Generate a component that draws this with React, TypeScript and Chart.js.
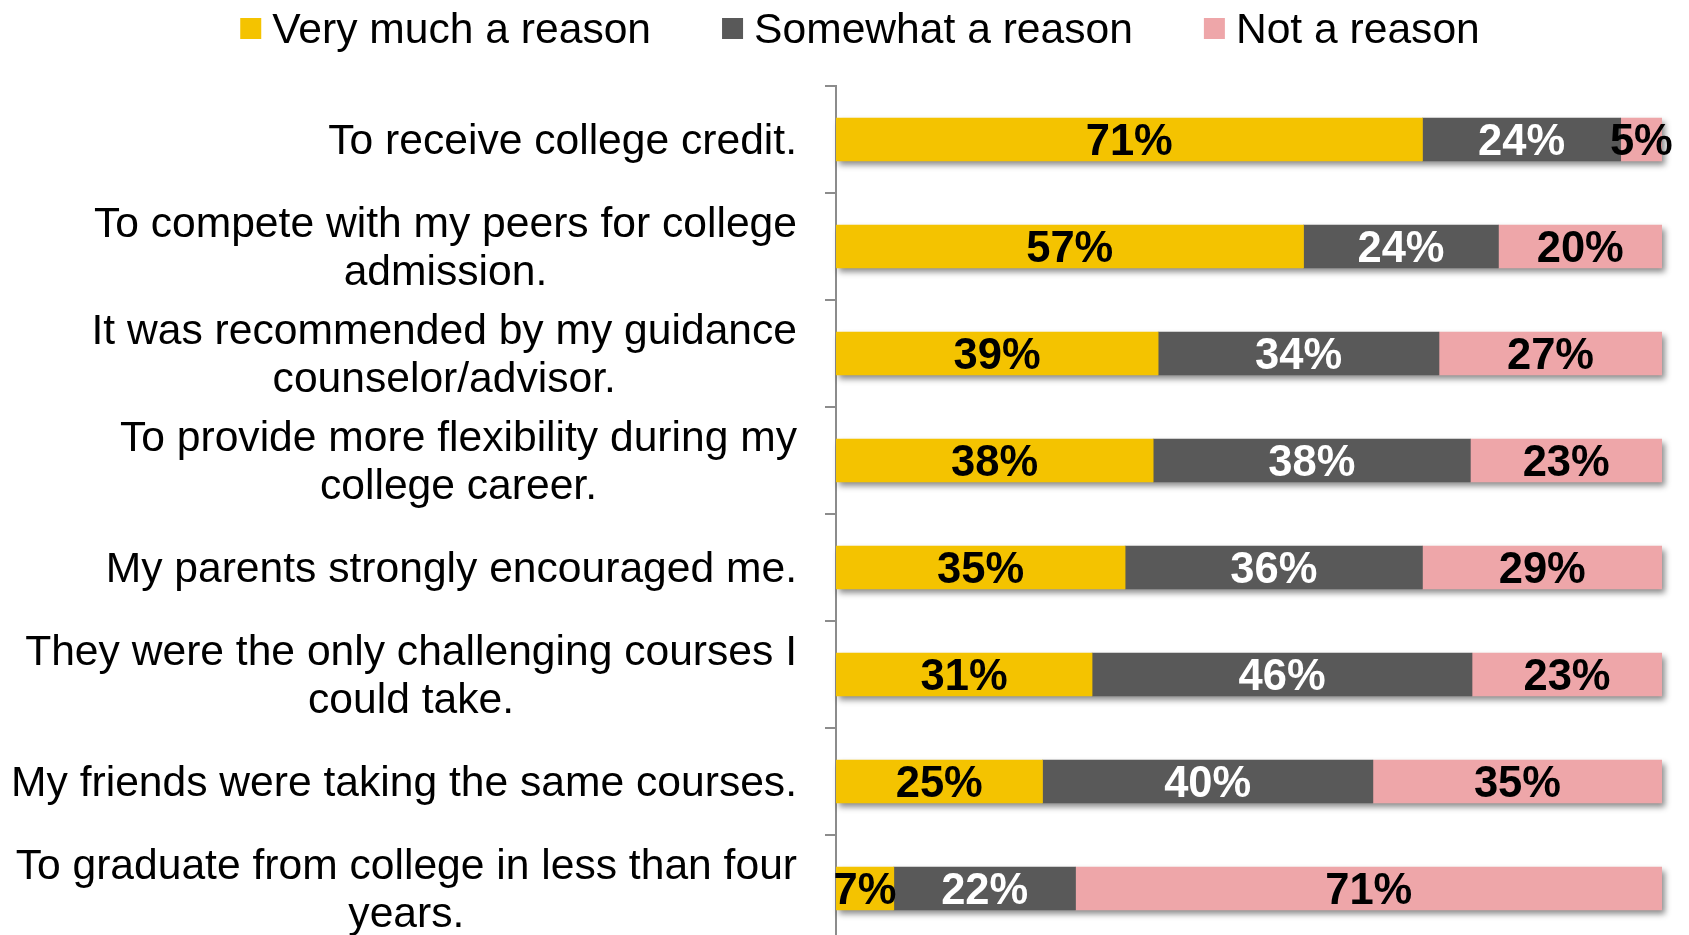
import React, { useEffect, useRef } from "react";
import { Chart, registerables } from "chart.js";

Chart.register(...registerables);

const categories: string[][] = [
  ["To receive college credit."],
  ["To compete with my peers for college", "admission."],
  ["It was recommended by my guidance", "counselor/advisor."],
  ["To provide more flexibility during my", "college career."],
  ["My parents strongly encouraged me."],
  ["They were the only challenging courses I", "could take."],
  ["My friends were taking the same courses."],
  ["To graduate from college in less than four", "years."],
];
const seriesNames = ["Very much a reason", "Somewhat a reason", "Not a reason"];
const veryMuch = [71, 56.6, 39, 38.4, 35, 31, 25, 7];
const somewhat = [24, 23.6, 34, 38.4, 36, 46, 40, 22];
const notReason = [5, 19.8, 27, 23.2, 29, 23, 35, 71];
const seriesColors = ["#F4C300", "#595959", "#EEA6A9"];
const labelColors = ["#000000", "#FFFFFF", "#000000"];

const FONT = "'Liberation Sans', Arial, sans-serif";

const shadowPlugin = {
  id: "barShadow",
  beforeDatasetsDraw(chart: any) {
    const ctx = chart.ctx;
    const first = chart.getDatasetMeta(0);
    const last = chart.getDatasetMeta(chart.data.datasets.length - 1);
    ctx.save();
    ctx.shadowColor = "rgba(0,0,0,0.45)";
    ctx.shadowBlur = 6;
    ctx.shadowOffsetX = 3;
    ctx.shadowOffsetY = 4;
    ctx.fillStyle = "#ffffff";
    first.data.forEach((el: any, i: number) => {
      const endEl = last.data[i];
      const left = Math.min(el.base, el.x);
      const right = Math.max(endEl.x, endEl.base);
      const h = el.height;
      ctx.fillRect(left, el.y - h / 2, right - left, h);
    });
    ctx.restore();
  },
};

const valueLabelPlugin = {
  id: "valueLabels",
  afterDatasetsDraw(chart: any) {
    const ctx = chart.ctx;
    ctx.save();
    ctx.font = `bold 43.5px ${FONT}`;
    ctx.textAlign = "center";
    ctx.textBaseline = "middle";
    chart.data.datasets.forEach((ds: any, di: number) => {
      const meta = chart.getDatasetMeta(di);
      meta.data.forEach((el: any, i: number) => {
        const v = ds.data[i];
        ctx.fillStyle = labelColors[di];
        ctx.fillText(`${Math.round(v)}%`, (el.x + el.base) / 2, el.y + 3);
      });
    });
    ctx.restore();
  },
};

const categoryLabelPlugin = {
  id: "categoryLabels",
  afterDraw(chart: any) {
    const ctx = chart.ctx;
    const yScale = chart.scales.y;
    const rightEdge = chart.chartArea.left - 39;
    const lineH = 48;
    ctx.save();
    ctx.font = `42.6px ${FONT}`;
    ctx.fillStyle = "#000000";
    ctx.textAlign = "center";
    ctx.textBaseline = "middle";
    (chart.data.labels as string[][]).forEach((lines, i) => {
      const y = yScale.getPixelForValue(i);
      const maxW = Math.max(...lines.map((l) => ctx.measureText(l).width));
      const cx = rightEdge - maxW / 2;
      const startY = y - ((lines.length - 1) * lineH) / 2;
      lines.forEach((l, li) => ctx.fillText(l, cx, startY + li * lineH + 3));
    });
    ctx.restore();
  },
};

const legendPlugin = {
  id: "customLegend",
  afterDraw(chart: any) {
    const ctx = chart.ctx;
    const box = 21;
    const gapText = 11;
    const gapItem = 71;
    const centerX = 860;
    const cy = 28.5;
    ctx.save();
    ctx.font = `42.6px ${FONT}`;
    const items = chart.data.datasets.map((ds: any) => ({
      text: ds.label,
      color: ds.backgroundColor,
      w: ctx.measureText(ds.label).width,
    }));
    const total =
      items.reduce((s: number, it: any) => s + box + gapText + it.w, 0) +
      gapItem * (items.length - 1);
    let x = centerX - total / 2;
    ctx.textBaseline = "middle";
    ctx.textAlign = "left";
    items.forEach((it: any) => {
      ctx.fillStyle = it.color;
      ctx.fillRect(x, cy - box / 2, box, box);
      ctx.fillStyle = "#000000";
      ctx.fillText(it.text, x + box + gapText, cy + 3);
      x += box + gapText + it.w + gapItem;
    });
    ctx.restore();
  },
};

export default function App() {
  const ref = useRef<HTMLCanvasElement | null>(null);

  useEffect(() => {
    document.body.style.margin = "0";
    document.body.style.overflow = "hidden";
    const canvas = ref.current;
    if (!canvas) return;
    const seriesData = [veryMuch, somewhat, notReason];
    const chart = new Chart(canvas, {
      type: "bar",
      data: {
        labels: categories as any,
        datasets: seriesNames.map((name, i) => ({
          label: name,
          data: seriesData[i],
          backgroundColor: seriesColors[i],
          borderWidth: 0,
          barThickness: 43,
        })),
      },
      options: {
        indexAxis: "y",
        responsive: false,
        animation: false,
        events: [],
        layout: { padding: { top: 86, left: 0, right: 27, bottom: 8 } },
        plugins: {
          legend: { display: false },
          tooltip: { enabled: false },
        },
        scales: {
          x: {
            stacked: true,
            min: 0,
            max: 100,
            display: false,
          },
          y: {
            stacked: true,
            offset: true,
            grid: {
              offset: true,
              drawOnChartArea: false,
              drawTicks: true,
              tickLength: 11,
              color: "#8C8C8C",
              lineWidth: 2,
            },
            border: { display: true, color: "#8C8C8C", width: 2 },
            ticks: { display: false },
            afterFit(scale: any) {
              scale.width = 836;
            },
          },
        },
      },
      plugins: [shadowPlugin, valueLabelPlugin, categoryLabelPlugin, legendPlugin],
    });
    return () => chart.destroy();
  }, []);

  return (
    <div style={{ width: 1689, height: 950, background: "#ffffff" }}>
      <canvas ref={ref} width={1689} height={950} style={{ display: "block" }} />
    </div>
  );
}
